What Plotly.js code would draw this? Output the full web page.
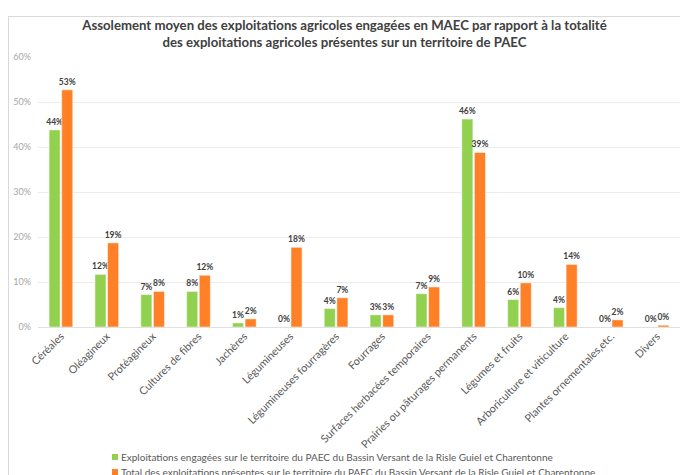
<!DOCTYPE html>
<html>
<head>
<meta charset="utf-8">
<script src="https://cdn.plot.ly/plotly-3.0.1.min.js"></script>
<style>
html,body{margin:0;padding:0;background:#fff;overflow:hidden;}
#frame{position:absolute;left:8px;top:16px;width:680px;height:470px;border-left:1px solid #d9d9d9;border-top:1px solid #d9d9d9;}
#chart{width:671px;height:458px;}
</style>
</head>
<body>
<div id="frame"><div id="chart"></div></div>
<script>
var categories = ["Céréales","Oléagineux","Protéagineux","Cultures de fibres","Jachères","Légumineuses","Légumineuses fourragères","Fourrages","Surfaces herbacées temporaires","Prairies ou pâturages permanents","Légumes et fruits","Arboriculture et viticulture","Plantes ornementales,etc.","Divers"];
var engagees = [0.438,0.117,0.072,0.079,0.009,0.0,0.041,0.027,0.074,0.462,0.061,0.043,0.0,0.0];
var total = [0.527,0.187,0.079,0.115,0.018,0.177,0.065,0.027,0.089,0.388,0.098,0.139,0.016,0.004];
var seriesNames = ["Exploitations engagées sur le territoire du PAEC du Bassin Versant de la Risle Guiel et Charentonne","Total des exploitations présentes sur le territoire du PAEC du Bassin Versant de la Risle Guiel et Charentonne"];
var seriesColors = ["#92d050","#ff8027"];
var titleText = "Assolement moyen des exploitations agricoles engagées en MAEC par rapport à la totalité<br>des exploitations agricoles présentes sur un territoire de PAEC";

var FONT = "Lato, 'Open Sans', sans-serif";
var labelFont = {family: FONT, size: 8.5, color: "#404040"};

var traces = [
  {type:"bar", name:seriesNames[0], x:categories, y:engagees,
   marker:{color:seriesColors[0], line:{color:"#ffffff", width:0.5}},
   texttemplate:"<b>%{y:.0%}</b>", textposition:"outside", constraintext:"none", textfont:labelFont, cliponaxis:false, hoverinfo:"none"},
  {type:"bar", name:seriesNames[1], x:categories, y:total,
   marker:{color:seriesColors[1], line:{color:"#ffffff", width:0.5}},
   texttemplate:"<b>%{y:.0%}</b>", textposition:"outside", constraintext:"none", textfont:labelFont, cliponaxis:false, hoverinfo:"none"}
];

// custom legend (compact, like the source) built from series names/colours
var plotH = 270, plotW = 642;
var legendRows = [457, 472]; // page y centres
var annotations = [], shapes = [];
for (var i = 0; i < seriesNames.length; i++) {
  var yc = (327 - legendRows[i]) / plotH;
  annotations.push({xref:"paper", yref:"paper", x:(119 - 38)/plotW, y:yc, xanchor:"left", yanchor:"middle",
    text:seriesNames[i], showarrow:false, font:{family:FONT, size:10, color:"#595959"}});
  shapes.push({type:"rect", xref:"paper", yref:"paper", x0:(112-38)/plotW, x1:(118-38)/plotW,
    y0:yc - 3/plotH, y1:yc + 3/plotH, fillcolor:seriesColors[i], line:{width:0}});
}

var layout = {
  width:671, height:458,
  margin:{l:29, r:0, t:40, b:148, autoexpand:false},
  paper_bgcolor:"#ffffff", plot_bgcolor:"#ffffff",
  font:{family:FONT, color:"#595959"},
  title:{text:"<b>"+titleText+"</b>", x:0.5, xref:"container", y:0.972, yref:"container", yanchor:"middle",
         font:{family:FONT, size:13.2, color:"#404040"}},
  barmode:"group", bargap:0.45, bargroupgap:0.12,
  xaxis:{tickangle:-45, tickfont:{family:FONT, size:10.8, color:"#595959"}, showline:false, ticks:"", automargin:false},
  yaxis:{range:[0,0.6], dtick:0.1, tickformat:".0%", showgrid:true, gridcolor:"#ececec", gridwidth:1,
         zeroline:true, zerolinecolor:"#e0e0e0", zerolinewidth:1,
         tickfont:{family:FONT, size:9, color:"#a6a6a6"}, automargin:false, ticklabelstandoff:6},
  showlegend:false,
  annotations:annotations,
  shapes:shapes
};

Plotly.newPlot("chart", traces, layout, {displayModeBar:false, staticPlot:true});
</script>
</body>
</html>
